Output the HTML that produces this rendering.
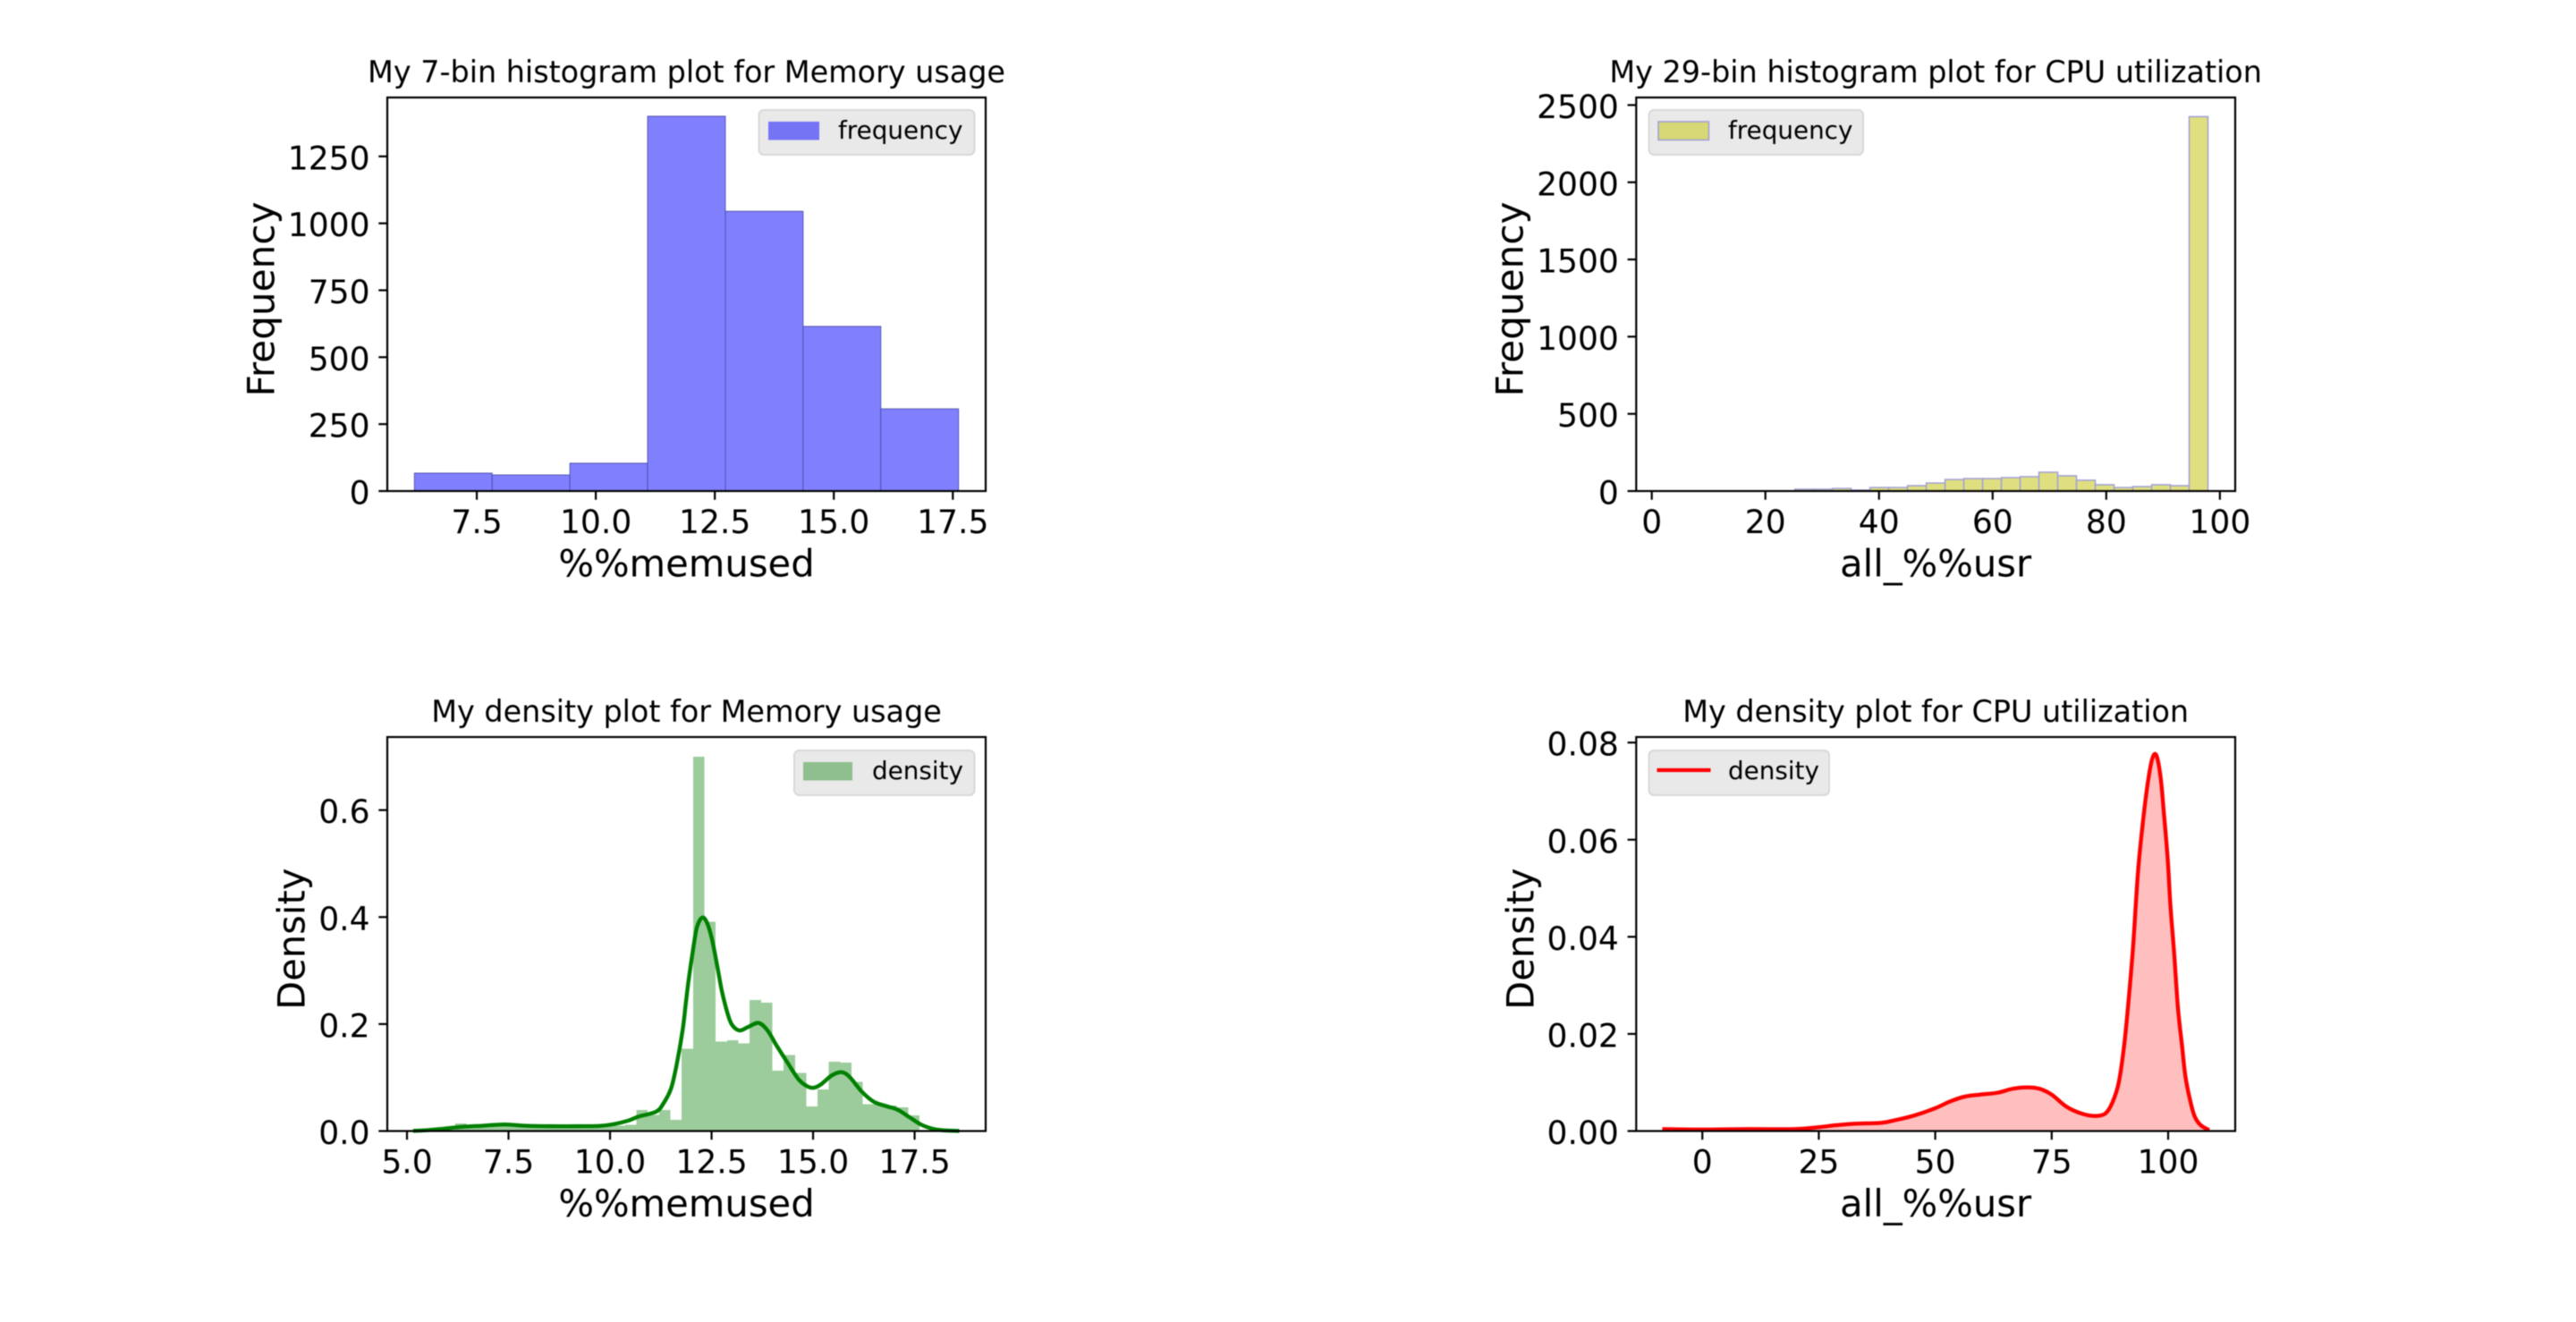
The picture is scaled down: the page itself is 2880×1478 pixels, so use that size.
<!DOCTYPE html>
<html lang="en">
<head>
<meta charset="utf-8">
<title>Memory and CPU histograms and density plots</title>
<style>
  html, body { margin: 0; padding: 0; background: #ffffff; }
  svg { display: block; filter: blur(0.5px); }
  text { font-family: "DejaVu Sans", "Liberation Sans", sans-serif; fill: #000000; }
</style>
</head>
<body>
<svg id="figure" xmlns="http://www.w3.org/2000/svg" width="2880" height="1478" viewBox="0 0 2880 1478">
  <rect x="0" y="0" width="2880" height="1478" fill="#ffffff"></rect>
</svg>
<script>
// ---- Panel 1: memory histogram ----
const memHistCounts = [67, 60, 104, 1400, 1045, 615, 307];
const memHistRange = [6.19, 17.62];
const memHistXDomain = [5.62, 18.19];
const memHistYDomain = [0, 1470];
const memHistXTicks = [7.5, 10, 12.5, 15, 17.5];
const memHistXLabels = ['7.5', '10.0', '12.5', '15.0', '17.5'];
const memHistYTicks = [0, 250, 500, 750, 1000, 1250];
const memHistYLabels = ['0', '250', '500', '750', '1000', '1250'];

// ---- Panel 2: CPU histogram ----
const cpuHistCounts = [0, 0, 0, 0, 0, 0, 0, 12, 12, 17, 6, 23, 23, 35, 52, 75, 81, 81, 87, 93, 122, 99, 70, 41, 23, 29, 41, 35, 2425];
const cpuHistRange = [2.05, 97.9];
const cpuHistXDomain = [-2.74, 102.7];
const cpuHistYDomain = [0, 2549];
const cpuHistXTicks = [0, 20, 40, 60, 80, 100];
const cpuHistXLabels = ['0', '20', '40', '60', '80', '100'];
const cpuHistYTicks = [0, 500, 1000, 1500, 2000, 2500];
const cpuHistYLabels = ['0', '500', '1000', '1500', '2000', '2500'];

// ---- Panel 3: memory density ----
const memDensBars = [0.014, 0.011, 0.011, 0.012, 0.012, 0.009, 0.010, 0.009, 0.009, 0.009, 0.009, 0.009, 0.009, 0.009, 0.010, 0.012,
  0.039, 0.030, 0.039, 0.021, 0.154, 0.700, 0.391, 0.167, 0.170, 0.164, 0.245, 0.240, 0.113, 0.142, 0.109, 0.046, 0.078, 0.130, 0.128, 0.092, 0.050, 0.050, 0.048, 0.044, 0.029];
const memDensRange = [6.19, 17.62];
const memKdeX = [5.15, 5.5, 5.92, 6.36, 6.87, 7.38, 7.9, 8.56, 9.22, 9.74, 10.1, 10.47, 10.7, 11.13, 11.31, 11.5, 11.64, 11.79, 11.87, 11.94, 12.05, 12.14, 12.27, 12.39, 12.51, 12.64, 12.75, 12.89, 13.0, 13.19, 13.41, 13.66, 13.88, 14.1, 14.36, 14.65, 14.87, 15.02, 15.2, 15.46, 15.7, 15.9, 16.2, 16.49, 16.78, 17.08, 17.37, 17.66, 17.96, 18.25, 18.6];
const memKdeY = [0.0003, 0.0015, 0.0045, 0.0078, 0.010, 0.0123, 0.0100, 0.009, 0.009, 0.0095, 0.013, 0.020, 0.027, 0.036, 0.051, 0.079, 0.124, 0.190, 0.2416, 0.285, 0.342, 0.381, 0.399, 0.389, 0.3587, 0.3085, 0.263, 0.221, 0.199, 0.188, 0.195, 0.202, 0.188, 0.160, 0.129, 0.096, 0.083, 0.081, 0.0875, 0.104, 0.110, 0.101, 0.0736, 0.055, 0.047, 0.040, 0.026, 0.012, 0.004, 0.0011, 0.0001];
const memDensXDomain = [4.515, 19.25];
const memDensYDomain = [0, 0.7366];
const memDensXTicks = [5, 7.5, 10, 12.5, 15, 17.5];
const memDensXLabels = ['5.0', '7.5', '10.0', '12.5', '15.0', '17.5'];
const memDensYTicks = [0, 0.2, 0.4, 0.6];
const memDensYLabels = ['0.0', '0.2', '0.4', '0.6'];

// ---- Panel 4: CPU density ----
const cpuKdeX = [-8.6, 0, 9.67, 19.9, 25, 28.8, 32.7, 38.4, 41.7, 45.5, 50, 53.2, 56.4, 59.6, 63.4, 66.6, 69.8, 72.4, 75, 78.2, 81.4, 84.2, 86.5, 88, 89.4, 90.6, 91.6, 92.5, 93.5, 94.5, 95.6, 96.6, 97.5, 98.4, 99.1, 99.9, 100.5, 101.3, 102.1, 103, 103.7, 104.7, 105.7, 107, 108.8];
const cpuKdeY = [0.0004, 0.0003, 0.0004, 0.0004, 0.0008, 0.0012, 0.0015, 0.0017, 0.0023, 0.0032, 0.0047, 0.0061, 0.0071, 0.0075, 0.0079, 0.0087, 0.0090, 0.0087, 0.0075, 0.0050, 0.0036, 0.0031, 0.0036, 0.0058, 0.010, 0.018, 0.0279, 0.0383, 0.053, 0.0629, 0.0715, 0.0767, 0.0773, 0.0727, 0.0653, 0.0561, 0.0463, 0.0365, 0.0254, 0.0174, 0.0113, 0.0064, 0.003, 0.0012, 0.0002];
const cpuDensXDomain = [-14.2, 114.4];
const cpuDensYDomain = [0, 0.08114];
const cpuDensXTicks = [0, 25, 50, 75, 100];
const cpuDensXLabels = ['0', '25', '50', '75', '100'];
const cpuDensYTicks = [0, 0.02, 0.04, 0.06, 0.08];
const cpuDensYLabels = ['0.00', '0.02', '0.04', '0.06', '0.08'];

const SVG_NS = 'http://www.w3.org/2000/svg';
const figure = document.getElementById('figure');

function make(parent, tag, attrs, name) {
  const el = document.createElementNS(SVG_NS, tag);
  for (const k in attrs) el.setAttribute(k, attrs[k]);
  
  
  parent.appendChild(el);
  return el;
}

function makeText(parent, str, attrs, name) {
  const el = make(parent, 'text', attrs, name);
  el.textContent = str;
  return el;
}

function createAxes(slug, box, xDomain, yDomain) {
  const g = make(figure, 'g', {}, slug);
  const x = v => box.left + (v - xDomain[0]) / (xDomain[1] - xDomain[0]) * (box.right - box.left);
  const y = v => box.bottom - (v - yDomain[0]) / (yDomain[1] - yDomain[0]) * (box.bottom - box.top);
  return { g, x, y, box, slug };
}

function drawFrame(ax, opts) {
  const { g, x, y, box, slug } = ax;
  const TICK = 9.7, LW = 2.2, PAD = 9.7;
  opts.xTicks.forEach((t, i) => {
    make(g, 'line', { x1: x(t), x2: x(t), y1: box.bottom, y2: box.bottom + TICK, stroke: '#000', 'stroke-width': LW }, slug + '-x-tick-' + opts.xLabels[i]);
    makeText(g, opts.xLabels[i], { x: x(t), y: box.bottom + 47, 'font-size': 36.1, 'text-anchor': 'middle' }, slug + '-x-tick-label-' + opts.xLabels[i]);
  });
  opts.yTicks.forEach((t, i) => {
    make(g, 'line', { x1: box.left - TICK, x2: box.left, y1: y(t), y2: y(t), stroke: '#000', 'stroke-width': LW }, slug + '-y-tick-' + opts.yLabels[i]);
    makeText(g, opts.yLabels[i], { x: box.left - TICK - PAD, y: y(t) + 14.5, 'font-size': 36.1, 'text-anchor': 'end' }, slug + '-y-tick-label-' + opts.yLabels[i]);
  });
  make(g, 'rect', { x: box.left, y: box.top, width: box.right - box.left, height: box.bottom - box.top, fill: 'none', stroke: '#000', 'stroke-width': LW }, slug + '-axes-frame');
  const cx = (box.left + box.right) / 2;
  makeText(g, opts.title, { x: cx, y: box.top - 17, 'font-size': 33.4, 'text-anchor': 'middle' }, slug + '-title');
  makeText(g, opts.xTitle, { x: cx, y: box.bottom + 95.5, 'font-size': 41.7, 'text-anchor': 'middle' }, slug + '-x-axis-title');
  const yc = (box.top + box.bottom) / 2 + 5.5;
  makeText(g, opts.yTitle, { x: opts.yTitleX, y: yc, 'font-size': opts.yTitleSize, 'text-anchor': 'middle', transform: 'rotate(-90 ' + opts.yTitleX + ' ' + yc + ')' }, slug + '-y-axis-title');
}

function drawBars(ax, values, range, style) {
  const w = (range[1] - range[0]) / values.length;
  values.forEach((v, i) => {
    if (v <= 0) return;
    const x0 = ax.x(range[0] + i * w), x1 = ax.x(range[0] + (i + 1) * w);
    make(ax.g, 'rect', Object.assign({ x: x0, y: ax.y(v), width: x1 - x0, height: ax.y(0) - ax.y(v) }, style), ax.slug + '-bar-' + i);
  });
}

// Smooth Catmull-Rom path through the data points, positioned by the axis functions.
function curvePath(ax, xs, ys) {
  const p = xs.map((v, i) => [ax.x(v), ax.y(ys[i])]);
  let d = 'M' + p[0][0].toFixed(2) + ' ' + p[0][1].toFixed(2);
  for (let i = 0; i < p.length - 1; i++) {
    const a = p[Math.max(i - 1, 0)], b = p[i], c = p[i + 1], e = p[Math.min(i + 2, p.length - 1)];
    const c1x = b[0] + (c[0] - a[0]) / 6, c1y = b[1] + (c[1] - a[1]) / 6;
    const c2x = c[0] - (e[0] - b[0]) / 6, c2y = c[1] - (e[1] - b[1]) / 6;
    d += ' C' + c1x.toFixed(2) + ' ' + c1y.toFixed(2) + ' ' + c2x.toFixed(2) + ' ' + c2y.toFixed(2) + ' ' + c[0].toFixed(2) + ' ' + c[1].toFixed(2);
  }
  return d;
}

function drawLegend(ax, L) {
  const lg = make(ax.g, 'g', {}, ax.slug + '-legend');
  make(lg, 'rect', { x: L.x0, y: L.y0, width: L.x1 - L.x0, height: 50, rx: 5.6, ry: 5.6, fill: '#e9e9e9', stroke: '#d8d8d8', 'stroke-width': 2 }, ax.slug + '-legend-frame');
  if (L.line) {
    make(lg, 'line', { x1: L.sx0, x2: L.sx1, y1: L.y0 + 22, y2: L.y0 + 22, stroke: L.line, 'stroke-width': 4.2 }, ax.slug + '-legend-line');
  } else {
    make(lg, 'rect', Object.assign({ x: L.sx0, y: L.y0 + 13, width: L.sx1 - L.sx0, height: 20.5 }, L.swatch), ax.slug + '-legend-swatch');
  }
  makeText(lg, L.label, { x: L.tx, y: L.y0 + 32, 'font-size': 27.8 }, ax.slug + '-legend-label');
}

// Panel 1
const ax1 = createAxes('memory-histogram', { left: 433, right: 1102, top: 109, bottom: 549 }, memHistXDomain, memHistYDomain);
drawBars(ax1, memHistCounts, memHistRange, { fill: '#8080ff', stroke: '#4c4ca8', 'stroke-width': 0.9 });
drawFrame(ax1, { xTicks: memHistXTicks, xLabels: memHistXLabels, yTicks: memHistYTicks, yLabels: memHistYLabels,
  title: 'My 7-bin histogram plot for Memory usage', xTitle: '%%memused', yTitle: 'Frequency', yTitleX: 306.5, yTitleSize: 42.2 });
drawLegend(ax1, { x0: 848.5, x1: 1089.5, y0: 123, sx0: 859, sx1: 916, tx: 937, label: 'frequency', swatch: { fill: '#7474f4' } });

// Panel 2
const ax2 = createAxes('cpu-histogram', { left: 1829.3, right: 2499, top: 109, bottom: 549 }, cpuHistXDomain, cpuHistYDomain);
drawBars(ax2, cpuHistCounts, cpuHistRange, { fill: '#dfdf80', stroke: '#a0a0d8', 'stroke-width': 1.5 });
drawFrame(ax2, { xTicks: cpuHistXTicks, xLabels: cpuHistXLabels, yTicks: cpuHistYTicks, yLabels: cpuHistYLabels,
  title: 'My 29-bin histogram plot for CPU utilization', xTitle: 'all_%%usr', yTitle: 'Frequency', yTitleX: 1702.5, yTitleSize: 42.2 });
drawLegend(ax2, { x0: 1843.6, x1: 2083, y0: 123, sx0: 1854, sx1: 1910.5, tx: 1932, label: 'frequency', swatch: { fill: '#d7d776', stroke: '#a0a0d8', 'stroke-width': 1.5 } });

// Panel 3
const ax3 = createAxes('memory-density', { left: 433, right: 1102, top: 824, bottom: 1264.5 }, memDensXDomain, memDensYDomain);
drawBars(ax3, memDensBars, memDensRange, { fill: '#9ccc9c', 'shape-rendering': 'crispEdges' });
make(ax3.g, 'path', { d: curvePath(ax3, memKdeX, memKdeY), fill: 'none', stroke: '#008000', 'stroke-width': 4.4, 'stroke-linejoin': 'round' }, 'memory-density-kde-line');
drawFrame(ax3, { xTicks: memDensXTicks, xLabels: memDensXLabels, yTicks: memDensYTicks, yLabels: memDensYLabels,
  title: 'My density plot for Memory usage', xTitle: '%%memused', yTitle: 'Density', yTitleX: 340.5, yTitleSize: 41.7 });
drawLegend(ax3, { x0: 888, x1: 1089.5, y0: 839, sx0: 898, sx1: 953, tx: 975, label: 'density', swatch: { fill: '#8fbf8f' } });

// Panel 4
const ax4 = createAxes('cpu-density', { left: 1829.3, right: 2499, top: 824, bottom: 1264.5 }, cpuDensXDomain, cpuDensYDomain);
const cpuLinePath = curvePath(ax4, cpuKdeX, cpuKdeY);
const cpuFillPath = cpuLinePath + ' L' + ax4.x(cpuKdeX[cpuKdeX.length - 1]).toFixed(2) + ' ' + ax4.y(0).toFixed(2) + ' L' + ax4.x(cpuKdeX[0]).toFixed(2) + ' ' + ax4.y(0).toFixed(2) + ' Z';
make(ax4.g, 'path', { d: cpuFillPath, fill: '#ffbfbf' }, 'cpu-density-kde-fill');
make(ax4.g, 'path', { d: cpuLinePath, fill: 'none', stroke: '#ff0000', 'stroke-width': 4.4, 'stroke-linejoin': 'round' }, 'cpu-density-kde-line');
drawFrame(ax4, { xTicks: cpuDensXTicks, xLabels: cpuDensXLabels, yTicks: cpuDensYTicks, yLabels: cpuDensYLabels,
  title: 'My density plot for CPU utilization', xTitle: 'all_%%usr', yTitle: 'Density', yTitleX: 1714.5, yTitleSize: 41.7 });
drawLegend(ax4, { x0: 1843.6, x1: 2045, y0: 839, sx0: 1852.5, sx1: 1912.5, tx: 1932, label: 'density', line: '#ff0000' });
</script>
</body>
</html>
